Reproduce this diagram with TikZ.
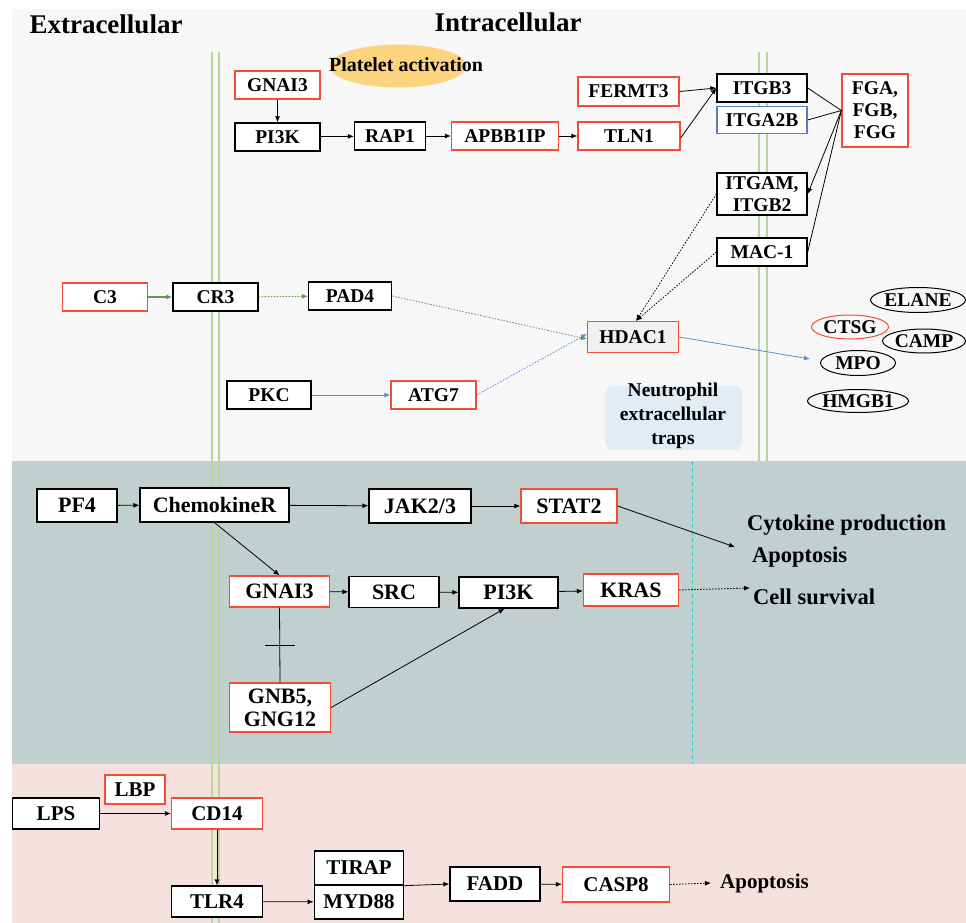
\documentclass[tikz,border=0pt]{standalone}
\usepackage{fontspec}
\setmainfont{Liberation Serif}
\usetikzlibrary{arrows.meta,shapes.geometric,calc}
\definecolor{redc}{RGB}{245,75,55}
\definecolor{bluec}{RGB}{90,125,190}
\definecolor{topbg}{RGB}{247,247,247}
\definecolor{midbg}{RGB}{193,207,206}
\definecolor{botbg}{RGB}{245,226,222}
\definecolor{memc}{RGB}{180,215,155}
\definecolor{garr}{RGB}{105,150,70}
\definecolor{barr}{RGB}{90,140,215}
\definecolor{orng}{RGB}{253,212,126}
\definecolor{netc}{RGB}{226,236,245}
\definecolor{cyanc}{RGB}{30,205,200}
\definecolor{hdfill}{RGB}{240,240,240}
\newcommand\ftop{\fontsize{19.5}{22}\selectfont\bfseries}
\newcommand\fmid{\fontsize{22}{24}\selectfont\bfseries}
\newcommand\fbot{\fontsize{21}{23}\selectfont\bfseries}
\newcommand\ftitle{\fontsize{27}{30}\selectfont\bfseries}
\begin{document}
\begin{tikzpicture}[x=1pt,y=-1pt,
  bx/.style={draw=black, line width=1.3pt, fill=white, inner sep=0pt, align=center, font=\ftop},
  rbx/.style={bx, draw=redc},
  mbx/.style={bx, font=\fmid},
  mrbx/.style={mbx, draw=redc},
  bbx/.style={bx, font=\fbot},
  brbx/.style={bbx, draw=redc},
  el/.style={ellipse, draw=black, line width=1pt, inner sep=0pt, font=\ftop},
  ar/.style={line width=0.8pt, -{Latex[length=6pt,width=5pt]}},
  dar/.style={ar, dash pattern=on 1.5pt off 1.5pt},
  ln/.style={line width=0.8pt},
  mem/.style={memc, line width=1.5pt},
  lbl/.style={anchor=west, inner sep=0pt}]
\useasboundingbox (0,0) rectangle (966,923);
% backgrounds
\fill[white] (0,0) rectangle (966,923);
\fill[topbg] (12,9) rectangle (966,461);
\fill[midbg] (12,461) rectangle (966,764);
\fill[botbg] (12,764) rectangle (966,923);
% membranes
\draw[mem] (212,52) -- (212,923);
\draw[mem] (219,52) -- (219,923);
\draw[mem] (759,52) -- (759,461);
\draw[mem] (767,52) -- (767,461);
\draw[cyanc, line width=1pt, dash pattern=on 4pt off 3pt] (692,461) -- (692,764);
% titles
\node[font=\ftitle] (extra) at (106,24) {Extracellular};
\node[font=\ftitle] (intra) at (508,22) {Intracellular};
% platelet activation
\node[ellipse, fill=orng, minimum width=137pt, minimum height=43pt, inner sep=0pt] (plt) at (398,66) {};
\node[font=\fontsize{20}{22}\selectfont\bfseries] (plttxt) at (406,65) {Platelet activation};
% NET box
\fill[netc, rounded corners=8pt] (605,386) rectangle (742,450);
\node[font=\fontsize{19.5}{24}\selectfont\bfseries, align=center] (net) at (673,416) {Neutrophil\\extracellular\\traps};
% top panel nodes
\node[rbx, minimum width=85pt, minimum height=28pt] (gnaiA) at (277.5,85) {GNAI3};
\node[bx, minimum width=85pt, minimum height=28pt] (pikA) at (277.5,137) {PI3K};
\node[bx, minimum width=71pt, minimum height=28pt] (rap1) at (390,136) {RAP1};
\node[rbx, minimum width=107pt, minimum height=28pt] (apbb) at (505,136) {APBB1IP};
\node[rbx, minimum width=102pt, minimum height=28pt] (tln1) at (629,136) {TLN1};
\node[rbx, minimum width=101pt, minimum height=29pt] (fermt) at (628.5,91.5) {FERMT3};
\node[bx, minimum width=90pt, minimum height=28pt] (itgb3) at (762,88) {ITGB3};
\node[bx, draw=bluec, minimum width=90pt, minimum height=27pt] (itga2b) at (762,120) {ITGA2B};
\node[rbx, minimum width=66pt, minimum height=73pt] (fga) at (875,110.5) {FGA,\\FGB,\\FGG};
\node[bx, minimum width=90pt, minimum height=42pt] (itgam) at (762,194) {ITGAM,\\ITGB2};
\node[bx, minimum width=90pt, minimum height=28pt] (mac1) at (762,252) {MAC-1};
\node[rbx, minimum width=85pt, minimum height=28pt] (c3) at (105,297) {C3};
\node[bx, minimum width=85pt, minimum height=28pt] (cr3) at (215.5,297) {CR3};
\node[bx, minimum width=83pt, minimum height=28pt] (pad4) at (350,296) {PAD4};
\node[bx, minimum width=84pt, minimum height=28pt] (pkc) at (269,395) {PKC};
\node[rbx, minimum width=85pt, minimum height=28pt] (atg7) at (433.5,395) {ATG7};
\node[rbx, fill=hdfill, minimum width=91pt, minimum height=31pt] (hdac) at (633,337) {HDAC1};
% effector ellipses
\node[el, minimum width=88pt, minimum height=25pt] (elane) at (918,300) {ELANE};
\node[el, draw=redc, minimum width=77pt, minimum height=24pt] (ctsg) at (850,327) {CTSG};
\node[el, minimum width=83pt, minimum height=24pt] (camp) at (924,341) {CAMP};
\node[el, minimum width=75pt, minimum height=25pt] (mpo) at (858,363) {MPO};
\node[el, minimum width=85pt, minimum height=23pt] (hmgb) at (858,401) {HMGB1};
\coordinate (netend) at (810,359);
% top edges
\draw[ar] (gnaiA) -- (pikA);
\draw[ar] (pikA) -- (rap1);
\draw[ar] (rap1) -- (apbb);
\draw[ar] (apbb) -- (tln1);
\draw[ar] (fermt.east) -- (itgb3.west);
\draw[ar] ([yshift=-2pt]tln1.east) -- (itgb3.west);
\draw[ln] (itgb3.east) -- (fga.west);
\draw[ln] (itga2b.east) -- (fga.west);
\draw[ar] (fga.west) -- (itgam.east);
\draw[ln] (mac1.east) -- (fga.west);
\draw[dar] (itgam.west) -- ([xshift=3pt]hdac.north);
\draw[dar] (mac1.west) -- ([xshift=3pt]hdac.north);
\draw[ar, garr, line width=1.2pt] (c3) -- (cr3);
\draw[dar, garr] (cr3) -- (pad4);
\draw[dar, garr] (pad4.east) -- ([yshift=-2pt]hdac.west);
\draw[ar, barr] (pkc) -- (atg7);
\draw[dar, barr] (atg7.east) -- ([yshift=3pt]hdac.west);
\draw[ar, barr] (hdac.east) -- (netend);
% middle panel
\node[mbx, minimum width=80pt, minimum height=33pt] (pf4) at (77,505.5) {PF4};
\node[mbx, minimum width=149pt, minimum height=34pt] (chem) at (214.5,505) {ChemokineR};
\node[mbx, minimum width=102pt, minimum height=34pt] (jak) at (420,506) {JAK2/3};
\node[mrbx, minimum width=96pt, minimum height=34pt] (stat2) at (569,506) {STAT2};
\node[mrbx, minimum width=100pt, minimum height=31pt] (gnaiB) at (279.5,591.5) {GNAI3};
\node[mbx, minimum width=90pt, minimum height=31pt] (src) at (394,592) {SRC};
\node[mbx, minimum width=99pt, minimum height=31pt] (pikB) at (508.5,592.5) {PI3K};
\node[mrbx, minimum width=95pt, minimum height=32pt] (kras) at (631,590) {KRAS};
\node[mrbx, minimum width=101pt, minimum height=49pt, font=\fontsize{22}{23}\selectfont\bfseries] (gnb) at (280,707.5) {GNB5,\\GNG12};
\node[lbl, font=\fontsize{22.5}{24}\selectfont\bfseries] (cyto) at (747,525) {Cytokine production};
\node[lbl, font=\fontsize{22.5}{24}\selectfont\bfseries] (apo1) at (752,557) {Apoptosis};
\node[lbl, font=\fontsize{22.5}{24}\selectfont\bfseries] (surv) at (753,597) {Cell survival};
\coordinate (statend) at (735,547);
\coordinate (krasend) at (750,588);
\draw[ar] (pf4) -- (chem);
\draw[ar] (chem) -- (jak);
\draw[ar] (jak) -- (stat2);
\draw[ar] (chem.south) -- (gnaiB.north);
\draw[ar] (gnaiB) -- (src);
\draw[ar] (src) -- (pikB);
\draw[ar] (pikB) -- (kras);
\draw[ar] (gnb.east) -- ([xshift=-4pt]pikB.south);
\draw[dar] (kras.east) -- (krasend);
\draw[ar] (stat2.east) -- (statend);
\draw[ln] (gnaiB.south) -- (gnb.north);
\draw[ln] ($(gnaiB.south)!0.5!(gnb.north)$) +(-15,0) -- +(15,0);
% bottom panel
\node[brbx, minimum width=60pt, minimum height=29pt] (lbp) at (135,789.5) {LBP};
\node[bbx, minimum width=87pt, minimum height=31pt] (lps) at (56,813.5) {LPS};
\node[brbx, minimum width=91pt, minimum height=31pt] (cd14) at (217,813.5) {CD14};
\node[bbx, minimum width=91pt, minimum height=31pt] (tlr4) at (217,901.5) {TLR4};
\node[bbx, minimum width=89.5pt, minimum height=34pt] (tirap) at (359,868) {TIRAP};
\node[bbx, minimum width=89.5pt, minimum height=34pt] (myd) at (359,902) {MYD88};
\node[bbx, minimum width=90pt, minimum height=34pt] (fadd) at (495,884) {FADD};
\node[brbx, minimum width=107pt, minimum height=35pt] (casp) at (616,884.5) {CASP8};
\node[lbl, font=\fbot] (apo2) at (720,883) {Apoptosis};
\draw[ar] (lps) -- (cd14);
\draw[ar] (cd14) -- (tlr4);
\draw[ar] (tlr4) -- (myd);
\draw[ar] (tirap.south east) -- (fadd.west);
\draw[ar] (fadd) -- (casp);
\draw[dar] (casp.east) -- ([xshift=-9pt]apo2.west);
\end{tikzpicture}
\end{document}
